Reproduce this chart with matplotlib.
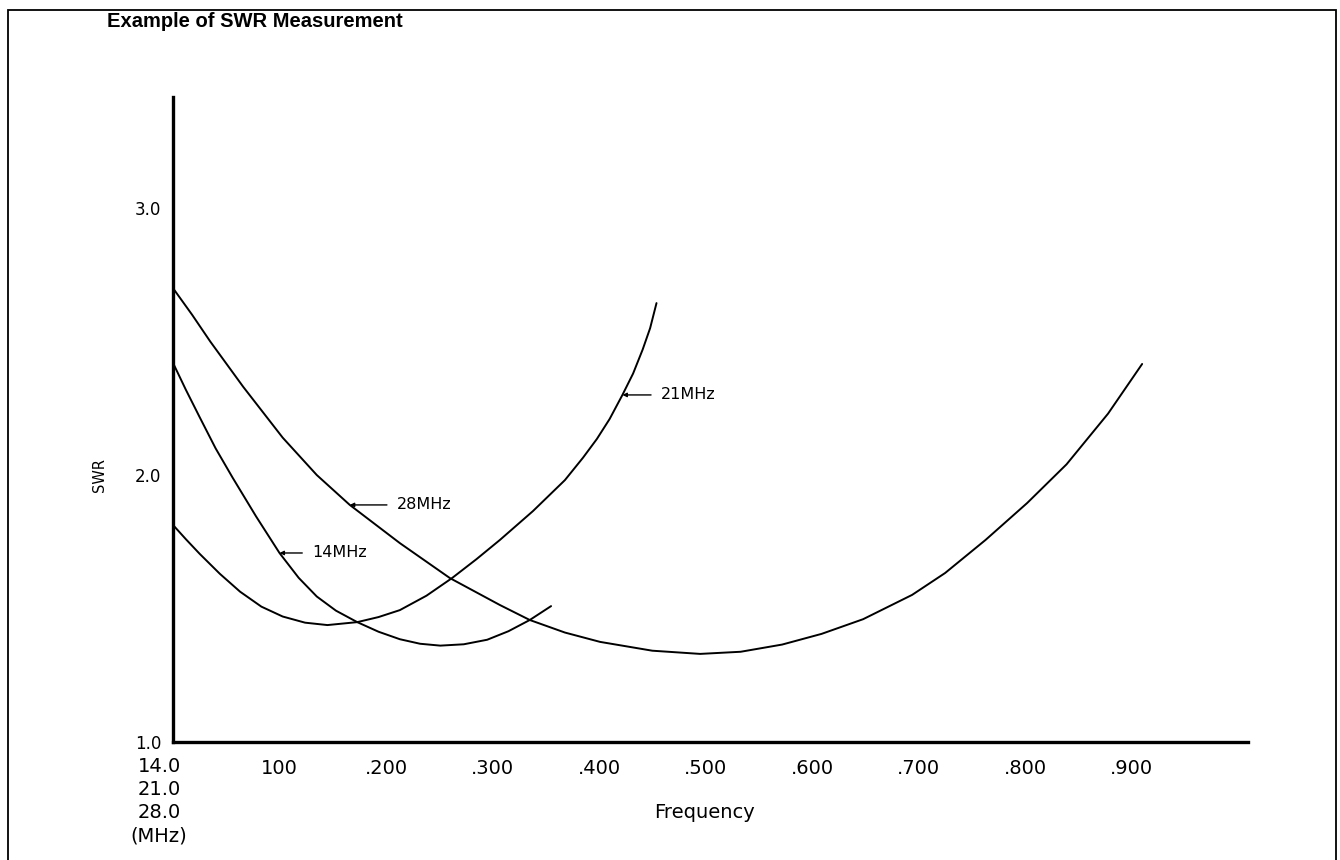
import matplotlib
matplotlib.use("Agg")
import matplotlib.pyplot as plt
from matplotlib.patches import Rectangle

plt.rcParams['font.family'] = ['DejaVu Sans']

# ---- data (x: offset from band start in MHz, y: SWR) ----
x_28 = [0.0, 0.018, 0.035, 0.066, 0.103, 0.135, 0.166, 0.213, 0.26, 0.307, 0.335, 0.368, 0.401,
        0.45, 0.495, 0.533, 0.572, 0.609, 0.648, 0.694, 0.725, 0.763, 0.802, 0.839, 0.878, 0.910]
y_28 = [2.70, 2.60, 2.50, 2.33, 2.14, 2.00, 1.888, 1.745, 1.614, 1.513, 1.457, 1.41, 1.375,
        1.342, 1.330, 1.338, 1.365, 1.405, 1.460, 1.551, 1.633, 1.757, 1.895, 2.04, 2.23, 2.416]

x_14 = [0.0, 0.012, 0.025, 0.040, 0.056, 0.078, 0.10, 0.118, 0.135, 0.153, 0.173, 0.193, 0.213,
        0.232, 0.251, 0.273, 0.295, 0.315, 0.335, 0.355]
y_14 = [2.42, 2.32, 2.217, 2.10, 1.99, 1.845, 1.708, 1.615, 1.545, 1.492, 1.449, 1.413, 1.385,
        1.368, 1.361, 1.366, 1.383, 1.415, 1.457, 1.509]

x_21 = [0.0, 0.012, 0.025, 0.044, 0.063, 0.083, 0.103, 0.124, 0.145, 0.173, 0.193, 0.213, 0.238,
        0.262, 0.285, 0.307, 0.338, 0.368, 0.385, 0.398, 0.41, 0.422, 0.432, 0.441, 0.448, 0.454]
y_21 = [1.813, 1.760, 1.705, 1.63, 1.563, 1.507, 1.47, 1.447, 1.438, 1.449, 1.468, 1.494, 1.548,
        1.614, 1.685, 1.757, 1.865, 1.981, 2.065, 2.135, 2.21, 2.30, 2.38, 2.47, 2.55, 2.644]

x_ticks = [0.1, 0.2, 0.3, 0.4, 0.5, 0.6, 0.7, 0.8, 0.9]
x_ticklabels = ["100", ".200", ".300", ".400", ".500", ".600", ".700", ".800", ".900"]
y_ticks = [1.0, 2.0, 3.0]
y_ticklabels = ["1.0", "2.0", "3.0"]
band_label = "14.0\n21.0\n28.0\n(MHz)"

labels = ["28MHz", "14MHz", "21MHz"]
label_tips = [(0.166, 1.888), (0.10, 1.708), (0.422, 2.30)]
label_text_pos = [(0.210, 1.888), (0.1305, 1.708), (0.458, 2.30)]

W, H = 1340, 860
fig = plt.figure(figsize=(W / 100, H / 100), dpi=100)
fig.patch.set_facecolor("white")

ax = fig.add_axes([173 / W, 1 - 742 / H, (1248 - 173) / W, (742 - 97) / H])
ax.set_xlim(0, 1.0094)
ax.set_ylim(1.0, 3.416)

for xs, ys in [(x_28, y_28), (x_14, y_14), (x_21, y_21)]:
    ax.plot(xs, ys, color="black", lw=1.4, solid_joinstyle="round", solid_capstyle="round")

for lab, tip, pos in zip(labels, label_tips, label_text_pos):
    ax.annotate(lab, xy=tip, xytext=pos, ha="left", va="center", fontsize=11.5,
                arrowprops=dict(arrowstyle="-|>", color="black", lw=1.0,
                                mutation_scale=6, shrinkA=5, shrinkB=0))

for s in ["top", "right"]:
    ax.spines[s].set_visible(False)
for s in ["left", "bottom"]:
    ax.spines[s].set_linewidth(2.4)
    ax.spines[s].set_color("black")

ax.set_xticks(x_ticks)
ax.set_xticklabels(x_ticklabels, fontsize=14)
ax.set_yticks(y_ticks)
ax.set_yticklabels(y_ticklabels, fontsize=12)
ax.tick_params(axis="x", length=0, pad=12)
ax.tick_params(axis="y", length=0, pad=8.5)

ax.annotate(band_label, xy=(0, 0), xycoords="axes fraction",
            xytext=(-10, -11), textcoords="offset points",
            ha="center", va="top", fontsize=14, linespacing=1.27,
            multialignment="center")

fig.text(705 / W, 1 - 812 / H, "Frequency", ha="center", va="center", fontsize=14)
fig.text(100 / W, 1 - 475 / H, "SWR", ha="center", va="center", fontsize=10.5, rotation=90)
fig.text(107 / W, 1 - 27 / H, "Example of SWR Measurement", ha="left", va="baseline",
         fontsize=14.5, fontweight="bold", family=["Liberation Sans", "DejaVu Sans"])

fig.patches.append(Rectangle((8 / W, -0.01), (1336 - 8) / W, 1.01 - 10 / H,
                             transform=fig.transFigure, fill=False,
                             edgecolor="black", lw=1.3))

fig.savefig("out.png", dpi=100, facecolor="white")
